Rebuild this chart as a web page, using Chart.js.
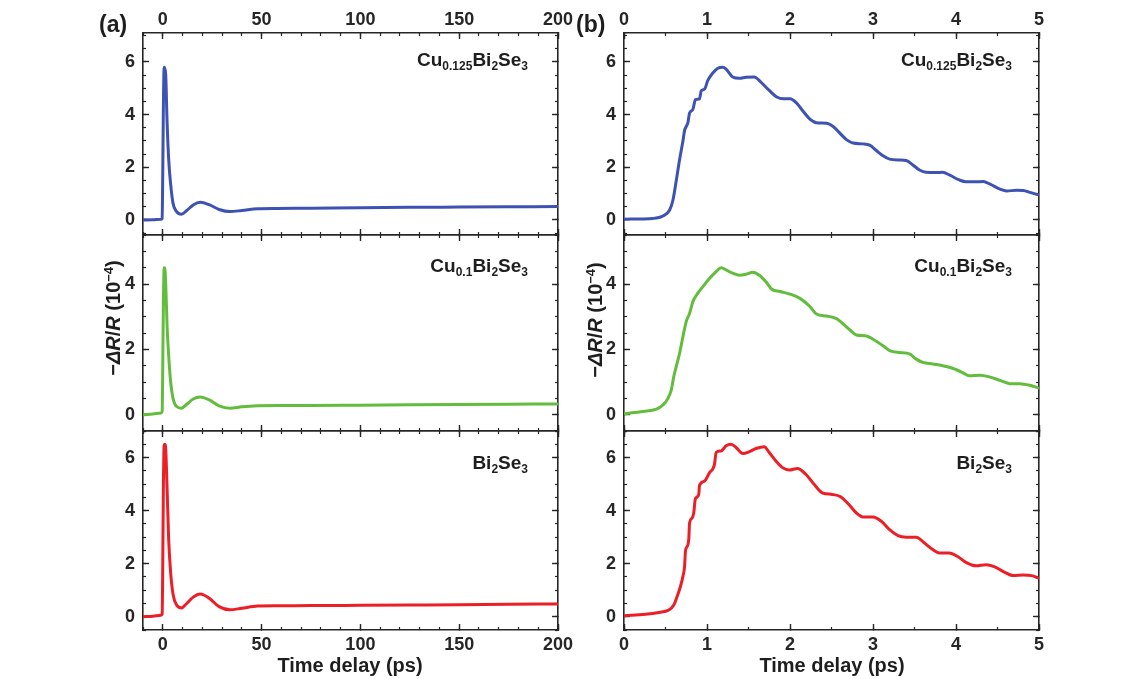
<!DOCTYPE html>
<html>
<head>
<meta charset="utf-8">
<title>Ultrafast reflectivity</title>
<script src="https://cdn.jsdelivr.net/npm/chart.js@4.4.1/dist/chart.umd.min.js"></script>
<style>
  body { margin: 0; background: #fff; }
  #fig { position: relative; width: 1140px; height: 679px; overflow: hidden;
         font-family: "Liberation Sans", Arial, sans-serif; font-weight: bold; color: #1e1e1e; }
  #fig canvas { position: absolute; }
  .txt { position: absolute; white-space: nowrap; z-index: 2; }
  .sample { font-size: 19px; line-height: 20px; text-align: right; }
  .sample sub { font-size: 12px; vertical-align: -4px; line-height: 0; }
  .tag { font-size: 23px; line-height: 24px; }
  .xtitle { font-size: 20px; line-height: 22px; width: 300px; text-align: center; }
  .ytitle { font-size: 20px; line-height: 22px; width: 200px; text-align: center; transform: rotate(-90deg); }
  .ytitle sup { font-size: 13px; vertical-align: 7px; line-height: 0; }
</style>
</head>
<body>
<div id="fig">
  <div class="txt tag" style="left:99px; top:12px">(a)</div>
  <div class="txt tag" style="left:576px; top:12px">(b)</div>

  <div class="txt sample" style="right:612px; top:50px">Cu<sub>0.125</sub>Bi<sub>2</sub>Se<sub>3</sub></div>
  <div class="txt sample" style="right:612px; top:256px">Cu<sub>0.1</sub>Bi<sub>2</sub>Se<sub>3</sub></div>
  <div class="txt sample" style="right:612px; top:453px">Bi<sub>2</sub>Se<sub>3</sub></div>
  <div class="txt sample" style="right:128px; top:50px">Cu<sub>0.125</sub>Bi<sub>2</sub>Se<sub>3</sub></div>
  <div class="txt sample" style="right:128px; top:256px">Cu<sub>0.1</sub>Bi<sub>2</sub>Se<sub>3</sub></div>
  <div class="txt sample" style="right:128px; top:453px">Bi<sub>2</sub>Se<sub>3</sub></div>

  <div class="txt ytitle" style="left:13px; top:307px">&minus;<i>ΔR</i>/<i>R</i> (10<sup>&minus;4</sup>)</div>
  <div class="txt ytitle" style="left:495px; top:309px">&minus;<i>ΔR</i>/<i>R</i> (10<sup>&minus;4</sup>)</div>

  <div class="txt xtitle" style="left:200px; top:654px">Time delay (ps)</div>
  <div class="txt xtitle" style="left:682px; top:654px">Time delay (ps)</div>
</div>

<script>
// ---- data ----
// (a) long window, time delay in ps
const timeA = [-10, -5, -1, -0.3, 0, 0.3, 0.7, 1, 1.5, 2.2,
               3, 4, 5.2, 7, 9.5, 12, 15.4, 19, 23.5, 28.5,
               34, 40, 48, 58, 75, 100, 125, 150, 175, 200];
const cu125A = [0.0, 0.01, 0.03, 0.06, 1.8, 4.2, 5.8, 5.75, 5.5, 3.7,
                2.3, 1.35, 0.63, 0.32, 0.22, 0.35, 0.57, 0.67, 0.58, 0.4,
                0.32, 0.36, 0.43, 0.44, 0.45, 0.46, 0.48, 0.49, 0.5, 0.51];
const cu10A = [0.0, 0.02, 0.05, 0.1, 1.5, 3.3, 4.5, 4.5, 4.0, 2.7,
               1.8, 1.0, 0.5, 0.25, 0.2, 0.31, 0.48, 0.54, 0.45, 0.27,
               0.2, 0.24, 0.27, 0.28, 0.28, 0.29, 0.3, 0.31, 0.32, 0.33];
const bi2se3A = [0.0, 0.02, 0.06, 0.1, 2.0, 4.8, 6.45, 6.5, 6.3, 4.8,
                 2.9, 1.65, 0.85, 0.44, 0.33, 0.49, 0.74, 0.86, 0.7, 0.38,
                 0.26, 0.32, 0.4, 0.41, 0.42, 0.43, 0.44, 0.45, 0.47, 0.48];

// (b) first 5 ps
const cu125TimeB = [0, 0.35, 0.47, 0.55, 0.59, 0.63, 0.67, 0.71, 0.73, 0.77,
                    0.79, 0.83, 0.86, 0.91, 0.93, 0.97, 1.01, 1.07, 1.13, 1.19,
                    1.23, 1.31, 1.39, 1.47, 1.57, 1.65, 1.75, 1.84, 1.92, 2.0,
                    2.08, 2.16, 2.24, 2.32, 2.44, 2.52, 2.60, 2.68, 2.76, 2.88,
                    2.96, 3.04, 3.12, 3.2, 3.32, 3.40, 3.48, 3.56, 3.64, 3.76,
                    3.84, 3.92, 4.04, 4.12, 4.24, 4.33, 4.41, 4.53, 4.61, 4.73,
                    4.81, 4.89, 5.0];
const cu125B = [0.03, 0.06, 0.15, 0.38, 0.76, 1.5, 2.3, 3.0, 3.4, 3.7,
                4.06, 4.2, 4.57, 4.6, 4.9, 4.97, 5.3, 5.58, 5.76, 5.8,
                5.73, 5.43, 5.38, 5.42, 5.43, 5.23, 4.92, 4.67, 4.6, 4.6,
                4.44, 4.12, 3.83, 3.69, 3.67, 3.55, 3.3, 3.05, 2.92, 2.89,
                2.84, 2.64, 2.44, 2.31, 2.28, 2.26, 2.09, 1.9, 1.81, 1.8,
                1.81, 1.71, 1.52, 1.45, 1.45, 1.46, 1.36, 1.17, 1.10, 1.13,
                1.12, 1.05, 0.95];

const cu10TimeB = [0, 0.23, 0.39, 0.47, 0.53, 0.57, 0.60, 0.63, 0.67, 0.71,
                   0.75, 0.79, 0.83, 0.89, 0.95, 1.03, 1.11, 1.17, 1.23, 1.31,
                   1.39, 1.47, 1.55, 1.63, 1.71, 1.78, 1.88, 2.0, 2.12, 2.24,
                   2.32, 2.44, 2.56, 2.64, 2.72, 2.80, 2.92, 3.0, 3.12, 3.2,
                   3.32, 3.44, 3.52, 3.6, 3.72, 3.84, 3.96, 4.08, 4.16, 4.29,
                   4.41, 4.53, 4.65, 4.77, 4.89, 5.0];
const cu10B = [0.03, 0.1, 0.17, 0.3, 0.5, 0.76, 1.17, 1.48, 1.88, 2.39,
               2.85, 3.1, 3.46, 3.72, 3.92, 4.17, 4.38, 4.5, 4.43, 4.33,
               4.27, 4.3, 4.36, 4.27, 4.07, 3.84, 3.77, 3.69, 3.56, 3.31,
               3.08, 3.02, 2.94, 2.78, 2.6, 2.44, 2.41, 2.31, 2.11, 1.96,
               1.9, 1.86, 1.7, 1.6, 1.55, 1.5, 1.42, 1.29, 1.19, 1.21,
               1.15, 1.05, 0.95, 0.95, 0.9, 0.81];

const bi2se3TimeB = [0, 0.26, 0.42, 0.54, 0.60, 0.64, 0.68, 0.71, 0.73, 0.74,
                     0.75, 0.78, 0.79, 0.82, 0.84, 0.86, 0.90, 0.91, 0.97, 1.03,
                     1.09, 1.11, 1.17, 1.23, 1.29, 1.35, 1.43, 1.51, 1.59, 1.69,
                     1.75, 1.83, 1.91, 1.99, 2.09, 2.19, 2.29, 2.39, 2.51, 2.61,
                     2.72, 2.80, 2.88, 3.0, 3.1, 3.2, 3.3, 3.4, 3.52, 3.62,
                     3.72, 3.8, 3.92, 4.02, 4.12, 4.24, 4.36, 4.46, 4.57, 4.69,
                     4.81, 4.91, 5.0];
const bi2se3B = [0.04, 0.09, 0.16, 0.25, 0.44, 0.76, 1.14, 1.52, 1.9, 2.46,
                 2.59, 2.9, 3.53, 3.72, 3.91, 4.44, 4.6, 4.95, 5.11, 5.43,
                 5.74, 6.19, 6.25, 6.44, 6.5, 6.38, 6.15, 6.22, 6.34, 6.41,
                 6.19, 5.87, 5.62, 5.53, 5.59, 5.37, 4.99, 4.67, 4.61, 4.52,
                 4.19, 3.91, 3.76, 3.76, 3.6, 3.28, 3.06, 3.0, 3.0, 2.78,
                 2.53, 2.4, 2.4, 2.27, 2.05, 1.92, 1.96, 1.89, 1.7, 1.55,
                 1.57, 1.55, 1.45];

// tick labels
const xTicksA = [0, 50, 100, 150, 200];
const xTicksB = [0, 1, 2, 3, 4, 5];
const yTicks = [0, 2, 4, 6];
const yTicksMid = [0, 2, 4];

const BLUE = '#3d52b3';
const GREEN = '#62bd3d';
const RED = '#ec1f27';
const INK = '#262626';

// plot boxes in page pixels
const cols = [{ left: 143, right: 558 }, { left: 624, right: 1039 }];
const rows = [{ top: 33, bottom: 235 }, { top: 235, bottom: 431 }, { top: 431, bottom: 630 }];
const marginTop = [33, 4, 4];
const marginBottom = [4, 4, 49];
const marginLeft = 40, marginRight = 22;

const tickFont = { family: '"Liberation Sans", Arial, sans-serif', size: 18, weight: 'bold' };

function sizeTo(px) {
    return function (scale) {
        if (scale.isHorizontal()) scale.height = px; else scale.width = px;
        scale.paddingLeft = scale.paddingRight = scale.paddingTop = scale.paddingBottom = 0;
    };
}

function majorAxis(axis, position, range, tickValues, size, showLabels, pad) {
    return {
        type: 'linear', axis: axis, position: position, weight: 1,
        min: range[0], max: range[1],
        afterBuildTicks: function (s) { s.ticks = tickValues.map(v => ({ value: v })); },
        afterFit: sizeTo(size),
        ticks: { display: showLabels, padding: pad, color: INK, font: tickFont,
                 autoSkip: false, maxRotation: 0 },
        grid: { drawOnChartArea: false, tickLength: -6, tickColor: INK, tickWidth: 1.4 },
        border: { display: true, color: INK, width: 1.6 }
    };
}

function minorAxis(axis, position, range, step) {
    return {
        type: 'linear', axis: axis, position: position, weight: 0,
        min: range[0], max: range[1],
        afterFit: sizeTo(0),
        ticks: { display: false, stepSize: step, includeBounds: false },
        grid: { drawOnChartArea: false, tickLength: -3, tickColor: INK, tickWidth: 1.2 },
        border: { display: false }
    };
}

const panels = [
    { col: 0, row: 0, time: timeA, values: cu125A, color: BLUE },
    { col: 0, row: 1, time: timeA, values: cu10A, color: GREEN },
    { col: 0, row: 2, time: timeA, values: bi2se3A, color: RED },
    { col: 1, row: 0, time: cu125TimeB, values: cu125B, color: BLUE },
    { col: 1, row: 1, time: cu10TimeB, values: cu10B, color: GREEN },
    { col: 1, row: 2, time: bi2se3TimeB, values: bi2se3B, color: RED }
];

const yRanges = [[-0.57, 7.1], [-0.5, 5.5], [-0.5, 7.0]];

panels.forEach(function (p) {
    const c = cols[p.col], r = rows[p.row];
    const canvas = document.createElement('canvas');
    const left = c.left - marginLeft;
    const top = r.top - marginTop[p.row];
    canvas.width = (c.right + marginRight) - left;
    canvas.height = (r.bottom + marginBottom[p.row]) - top;
    canvas.style.left = left + 'px';
    canvas.style.top = top + 'px';
    canvas.style.width = canvas.width + 'px';
    canvas.style.height = canvas.height + 'px';
    document.getElementById('fig').appendChild(canvas);

    const xRange = p.col === 0 ? [-10, 200] : [0, 5];
    const xTicks = p.col === 0 ? xTicksA : xTicksB;
    const xMinor = p.col === 0 ? 10 : 0.5;
    const yRange = yRanges[p.row];
    const yt = p.row === 1 ? yTicksMid : yTicks;

    new Chart(canvas, {
        type: 'line',
        data: {
            datasets: [{
                data: p.time.map((t, i) => ({ x: t, y: p.values[i] })),
                borderColor: p.color,
                borderWidth: 3,
                pointRadius: 0,
                fill: false,
                cubicInterpolationMode: 'monotone',
                xAxisID: 'x',
                yAxisID: 'y'
            }]
        },
        options: {
            responsive: false,
            animation: false,
            events: [],
            layout: { padding: 0 },
            plugins: { legend: { display: false }, tooltip: { enabled: false } },
            scales: {
                x: majorAxis('x', 'bottom', xRange, xTicks, marginBottom[p.row], p.row === 2, 10),
                xMinor: minorAxis('x', 'bottom', xRange, xMinor),
                xTop: majorAxis('x', 'top', xRange, xTicks, marginTop[p.row], p.row === 0, 8),
                xTopMinor: minorAxis('x', 'top', xRange, xMinor),
                y: majorAxis('y', 'left', yRange, yt, marginLeft, true, 14),
                yMinor: minorAxis('y', 'left', yRange, 0.5),
                yRight: majorAxis('y', 'right', yRange, yt, marginRight, false, 0),
                yRightMinor: minorAxis('y', 'right', yRange, 0.5)
            }
        }
    });
});
</script>
</body>
</html>
